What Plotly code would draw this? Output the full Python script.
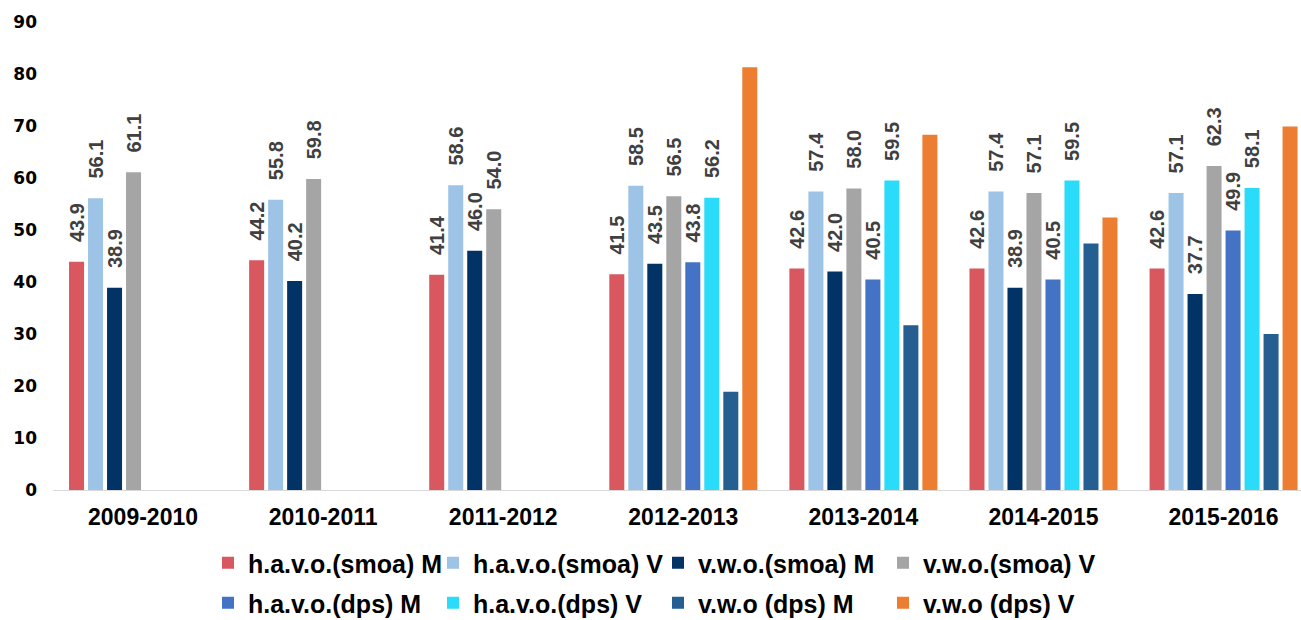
import plotly.graph_objects as go

categories = ["2009-2010", "2010-2011", "2011-2012", "2012-2013", "2013-2014", "2014-2015", "2015-2016"]
series_names = ["h.a.v.o.(smoa) M", "h.a.v.o.(smoa) V", "v.w.o.(smoa) M", "v.w.o.(smoa) V",
                "h.a.v.o.(dps) M", "h.a.v.o.(dps) V", "v.w.o (dps) M", "v.w.o (dps) V"]
havo_smoa_M = [43.9, 44.2, 41.4, 41.5, 42.6, 42.6, 42.6]
havo_smoa_V = [56.1, 55.8, 58.6, 58.5, 57.4, 57.4, 57.1]
vwo_smoa_M = [38.9, 40.2, 46.0, 43.5, 42.0, 38.9, 37.7]
vwo_smoa_V = [61.1, 59.8, 54.0, 56.5, 58.0, 57.1, 62.3]
havo_dps_M = [None, None, None, 43.8, 40.5, 40.5, 49.9]
havo_dps_V = [None, None, None, 56.2, 59.5, 59.5, 58.1]
vwo_dps_M = [None, None, None, 18.9, 31.7, 47.4, 30.0]
vwo_dps_V = [None, None, None, 81.3, 68.3, 52.4, 69.9]
y_ticks = [0, 10, 20, 30, 40, 50, 60, 70, 80, 90]

all_values = [havo_smoa_M, havo_smoa_V, vwo_smoa_M, vwo_smoa_V,
              havo_dps_M, havo_dps_V, vwo_dps_M, vwo_dps_V]
colors = ["#D9575E", "#9DC3E6", "#023366", "#A5A5A5",
          "#4472C4", "#2ADBFA", "#255E91", "#ED7D31"]
show_labels = [True, True, True, True, True, True, False, False]

fig = go.Figure()
for i, (name, vals, col, lab) in enumerate(zip(series_names, all_values, colors, show_labels)):
    fig.add_trace(go.Bar(
        x=categories, y=vals, name=name,
        marker=dict(color=col, line=dict(width=0)),
        texttemplate="\u00a0\u00a0\u00a0%{y:.1f}" if lab else None,
        textposition="outside" if lab else "none",
        textangle=-90,
        constraintext="none",
        cliponaxis=False,
        textfont=dict(family="Liberation Sans", size=20, color="#404040", weight="bold"),
        legend="legend" if i < 4 else "legend2",
    ))

legend_common = dict(
    orientation="h", xref="container", yref="container",
    xanchor="left", yanchor="middle",
    font=dict(family="Liberation Sans", size=25, color="#000000", weight="bold"),
    entrywidth=180, itemwidth=30, bgcolor="rgba(0,0,0,0)",
    traceorder="normal",
)

fig.update_layout(
    width=1301, height=620,
    margin=dict(l=53, r=0, t=22, b=130, autoexpand=False),
    paper_bgcolor="white", plot_bgcolor="white",
    barmode="group", bargap=0.156, bargroupgap=0.21,
    showlegend=True,
    legend=dict(x=208 / 1301, y=1 - 563 / 620, **legend_common),
    legend2=dict(x=208 / 1301, y=1 - 603 / 620, **legend_common),
    xaxis=dict(
        type="category", range=[-0.5, 6.43], automargin=False,
        showline=True, linecolor="#D9D9D9", linewidth=1,
        showgrid=False, ticks="", zeroline=False, ticklabelstandoff=6,
        tickfont=dict(family="Liberation Sans", size=23, color="#000000", weight="bold"),
    ),
    yaxis=dict(
        range=[0, 90], tickvals=y_ticks, showgrid=False, zeroline=False,
        showline=False, ticks="", automargin=False, ticklabelstandoff=15,
        tickfont=dict(family="DejaVu Sans", size=17, color="#000000", weight="bold"),
    ),
)

fig.write_html("out.html", config={"displayModeBar": False},
               post_script="document.body.style.margin='0';")
